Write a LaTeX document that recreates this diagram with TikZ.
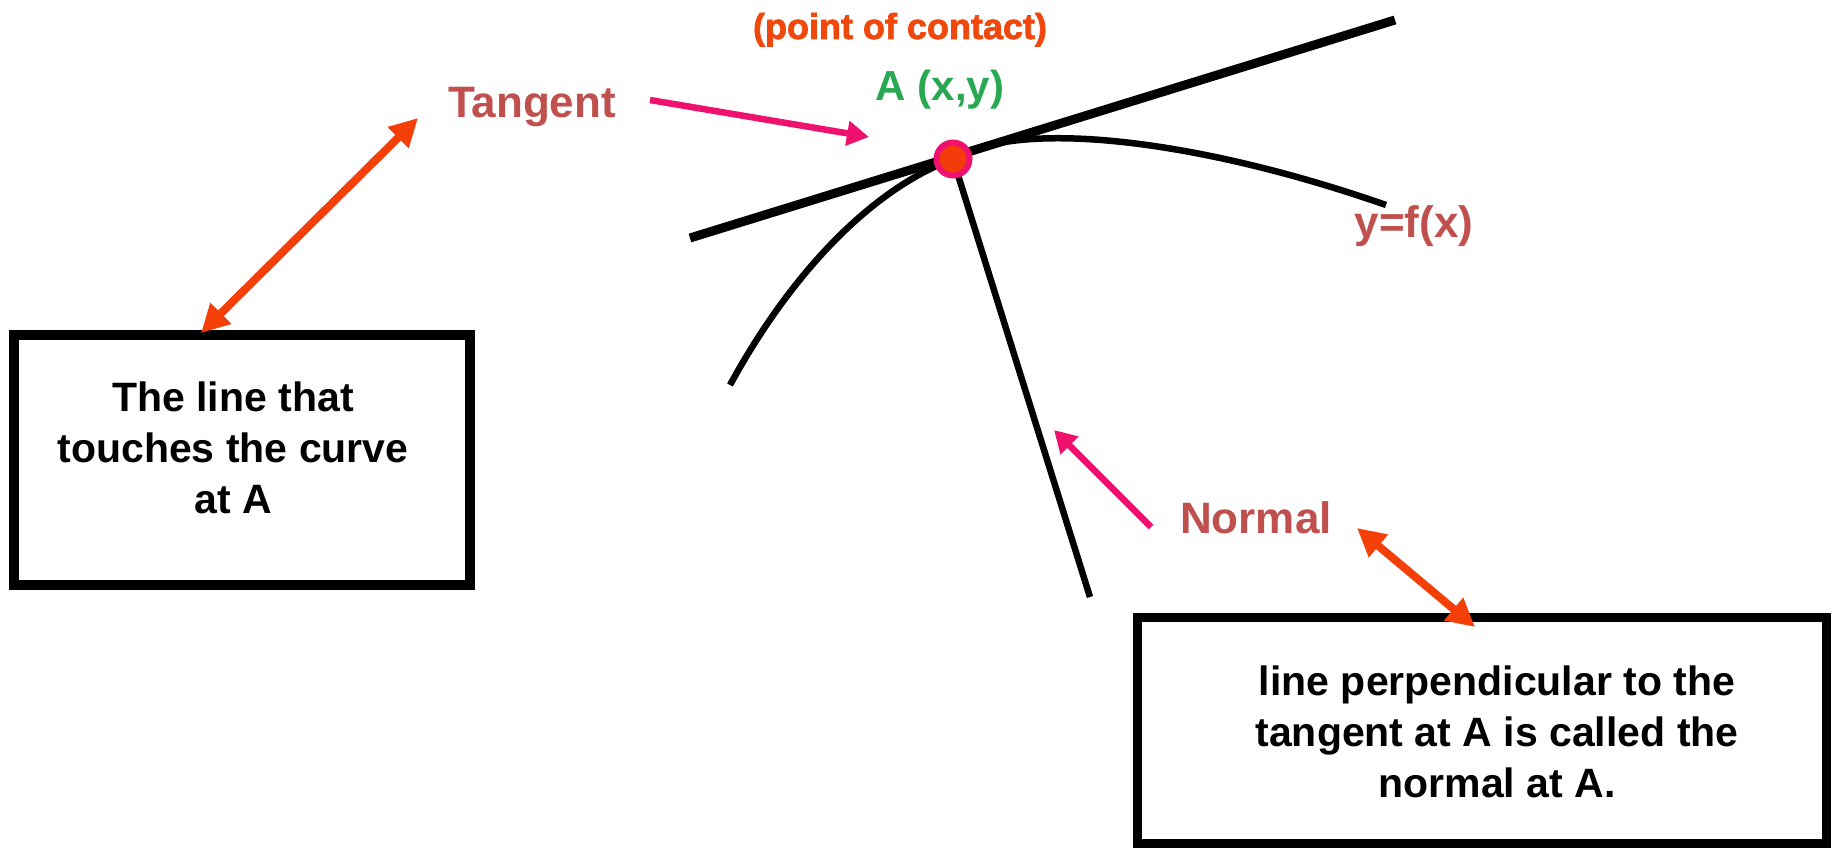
\documentclass[tikz,border=0pt]{standalone}
\usepackage{fontspec}
\setmainfont{Liberation Sans}
\newfontfamily\heavyfont[FakeBold=2]{Liberation Sans Bold}
\usetikzlibrary{arrows.meta}
\definecolor{lblred}{RGB}{192,80,77}
\definecolor{contactc}{RGB}{240,72,12}
\definecolor{greenc}{RGB}{40,168,80}
\definecolor{pinkc}{RGB}{238,18,110}
\definecolor{orangec}{RGB}{244,64,8}
\definecolor{dotfill}{RGB}{244,60,8}
\begin{document}
\begin{tikzpicture}[x=1pt,y=-1pt,
  lbl/.style={text=lblred, font=\fontsize{44}{52}\selectfont\bfseries, inner sep=0pt},
  boxframe/.style={draw=black, inner sep=0pt},
  boxtext/.style={align=center, font=\fontsize{41}{51}\selectfont\bfseries, inner sep=0pt},
  pinkarrow/.style={draw=pinkc, line width=6.5pt, -{Triangle[length=22pt,width=24pt]}},
  orangearrow/.style={draw=orangec, line width=8pt, {Triangle[length=28pt,width=28pt]}-{Triangle[length=28pt,width=28pt]}},
  curveline/.style={draw=black, line width=6.5pt}
]
\useasboundingbox (0,0) rectangle (1833,851);
\fill[white] (0,0) rectangle (1833,851);

% geometry
\coordinate (A) at (953,159);
\coordinate (tanL) at (690,238);
\coordinate (tanR) at (1395,20);
\coordinate (curveL) at (730,385);
\coordinate (curveR) at (1386,205);
\coordinate (normEnd) at (1090,597);

% tangent, curve, normal
\draw[black, line width=9pt] (tanL) -- (tanR);
\draw[curveline] (curveL) .. controls (790,275) and (870,190) .. (A)
                 .. controls (1020,118) and (1200,140) .. (curveR);
\draw[curveline] (A) -- (normEnd);
\node[circle, draw=pinkc, fill=dotfill, line width=6pt, minimum size=33pt, inner sep=0pt] (dot) at (A) {};

% labels
\node[text=contactc, anchor=base, inner sep=0pt, font=\fontsize{36}{44}\selectfont\heavyfont] (clabel) at (900,39) {(point of contact)};
\node[text=greenc, anchor=base, inner sep=0pt, font=\fontsize{42}{50}\selectfont\bfseries] (alabel) at (940,100) {A (x,y)};
\node[lbl, anchor=base] (tlabel) at (532,117) {Tangent};
\node[lbl, anchor=base] (flabel) at (1414,237) {y=f(x)};
\node[lbl, anchor=base] (nlabel) at (1256,533) {Normal};

% boxes
\node[boxframe, line width=10pt, minimum width=456pt, minimum height=250pt] (lbox) at (242,460) {};
\node[boxtext] (ltext) at (233,448) {The line that\\touches the curve\\at A};
\node[boxframe, line width=9pt, minimum width=689pt, minimum height=226pt] (rbox) at (1482,730.5) {};
\node[boxtext] (rtext) at (1497,732) {line perpendicular to the\\tangent at A is called the\\normal at A.};

% arrows
\coordinate (ttail) at (650,100);
\coordinate (ttip) at (869,137);
\draw[pinkarrow] (ttail) -- (ttip);
\coordinate (ntail) at (1151,527);
\coordinate (ntip) at (1054,430);
\draw[pinkarrow] (ntail) -- (ntip);
\coordinate (o1a) at (418,118);
\coordinate (o1b) at (201,333);
\draw[orangearrow] (o1a) -- (o1b);
\coordinate (o2a) at (1357,528);
\coordinate (o2b) at (1475,627);
\draw[orangearrow] (o2a) -- (o2b);
\end{tikzpicture}
\end{document}
